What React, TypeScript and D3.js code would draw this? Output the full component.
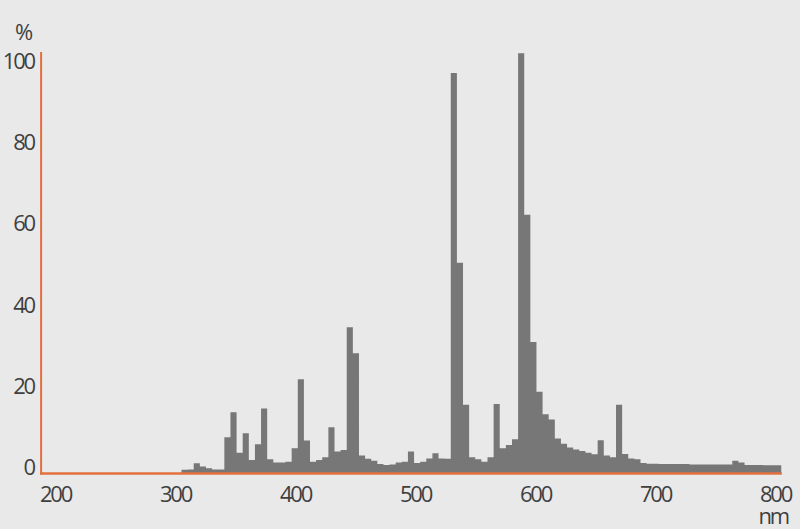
import {useMemo} from "react";
import * as d3 from "d3";

// Spectral distribution (relative %), one value per bin
const binStart = 305; // nm
const binWidth = 5.1; // nm
const intensity = [
  0.3, 0.4, 1.9, 1.1, 0.7, 0.4, 0.4, 8.3, 14.5, 4.5,
  9.3, 2.7, 6.6, 15.4, 2.9, 2.1, 2.1, 2.3, 5.6, 22.6,
  7.5, 2.3, 2.7, 3.4, 10.8, 4.8, 5.2, 35.4, 29.0, 3.8,
  3.0, 2.5, 1.7, 1.5, 1.6, 2.1, 2.3, 4.8, 2.0, 2.3,
  3.1, 4.4, 3.1, 3.0, 98.0, 51.3, 16.3, 3.4, 2.9, 2.3,
  3.4, 16.5, 5.6, 6.4, 7.8, 102.9, 63.1, 31.8, 19.5, 14.0,
  12.7, 8.0, 6.7, 5.8, 5.3, 4.9, 4.5, 4.1, 7.6, 3.8,
  3.4, 16.3, 4.2, 3.1, 2.9, 2.0, 1.8, 1.8, 1.7, 1.7,
  1.7, 1.7, 1.7, 1.6, 1.6, 1.6, 1.6, 1.6, 1.6, 1.6,
  2.5, 2.1, 1.5, 1.5, 1.5, 1.4, 1.4, 1.4,
];

const xTicks = [200, 300, 400, 500, 600, 700, 800];
const yTicks = [0, 20, 40, 60, 80, 100];

const width = 800;
const height = 529;

export default function App() {
  const x = d3.scaleLinear().domain([200, 800]).range([55.5, 775.5]);
  const y = d3.scaleLinear().domain([0, 100]).range([471, 65]);

  const pathD = useMemo(() => {
    // bins as [start wavelength, value], plus closing edge
    const pts: [number, number][] = intensity.map((v, i) => [binStart + i * binWidth, v]);
    pts.push([binStart + intensity.length * binWidth, intensity[intensity.length - 1]]);
    const area = d3
      .area<[number, number]>()
      .x((d) => x(d[0]))
      .y0(y(0) + 2)
      .y1((d) => y(d[1]))
      .curve(d3.curveStepAfter);
    return area(pts) ?? "";
  }, []);

  const axisColor = "#e2703f";
  const textColor = "#3f3f3f";
  const fontStyle = {
    fontFamily: "'Open Sans', 'DejaVu Sans', sans-serif",
    fontSize: 22,
    letterSpacing: "-2.2px",
  };

  return (
    <svg
      width={width}
      height={height}
      style={{position: "absolute", left: 0, top: 0, display: "block"}}
    >
      <rect width={width} height={height} fill="#e9e9e9" />

      {/* histogram */}
      <path d={pathD} fill="#777777" />

      {/* axes */}
      <line
        x1={x(188)}
        x2={x(188)}
        y1={y(103.2)}
        y2={y(0) + 3.5}
        stroke={axisColor}
        strokeWidth={2}
      />
      <line
        x1={x(188) - 1}
        x2={x(805.3)}
        y1={y(0) + 2.5}
        y2={y(0) + 2.5}
        stroke={axisColor}
        strokeWidth={2.5}
      />

      {/* y tick labels */}
      {yTicks.map((t) => (
        <text
          key={"y" + t}
          x={34}
          y={y(t) - 4}
          dy="0.36em"
          textAnchor="end"
          fill={textColor}
          style={fontStyle}
        >
          {t}
        </text>
      ))}

      {/* x tick labels */}
      {xTicks.map((t) => (
        <text
          key={"x" + t}
          x={x(t)}
          y={501.5}
          textAnchor="middle"
          fill={textColor}
          style={fontStyle}
        >
          {t}
        </text>
      ))}

      {/* units */}
      <text x={23} y={40} textAnchor="middle" fill={textColor} style={fontStyle}>
        %
      </text>
      <text x={788} y={524} textAnchor="end" fill={textColor} style={fontStyle}>
        nm
      </text>
    </svg>
  );
}
